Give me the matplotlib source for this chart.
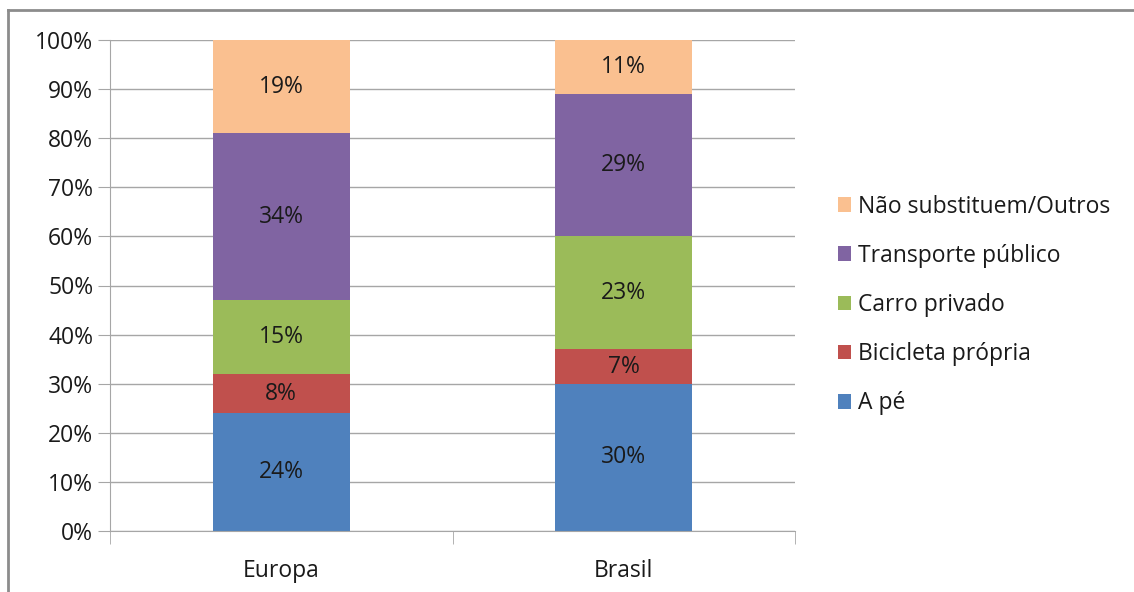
import matplotlib.pyplot as plt
from matplotlib.lines import Line2D

## Data
regions = ['Europa', 'Brasil']
series = ['A pé', 'Bicicleta própria', 'Carro privado',
          'Transporte público', 'Não substituem/Outros']
a_pe = [24, 30]
bicicleta = [8, 7]
carro = [15, 23]
transporte = [34, 29]
outros = [19, 11]
values = [a_pe, bicicleta, carro, transporte, outros]
colors = ['#4F81BD', '#C0504D', '#9BBB59', '#8064A2', '#FAC090']
yticks = [0, 10, 20, 30, 40, 50, 60, 70, 80, 90, 100]

plt.rcParams['font.family'] = ['Open Sans', 'DejaVu Sans']
fs = 16.5

fig = plt.figure(figsize=(11.34, 5.92), dpi=100)
ax = fig.add_axes([110/1134, 1-531/592, 685/1134, 491/592])

x = list(range(len(regions)))
bottom = [0]*len(regions)
for vals, col, name in zip(values, colors, series):
    ax.bar(x, vals, width=0.4, bottom=bottom, color=col, label=name, zorder=3)
    for xi, v, b in zip(x, vals, bottom):
        ax.text(xi, b + v/2, str(v) + '%', ha='center', va='center',
                fontsize=fs, color='#1a1a1a', zorder=4)
    bottom = [b + v for b, v in zip(bottom, vals)]

ax.set_xlim(-0.5, 1.5)
ax.set_ylim(0, 100)
ax.set_yticks(yticks)
ax.set_yticklabels([str(t) + '%' for t in yticks], fontsize=fs, color='#1a1a1a')
ax.yaxis.grid(True, color='#A6A6A6', linewidth=1, zorder=0)
ax.tick_params(axis='y', length=9, color='#A6A6A6', pad=3)

# Category labels and separating ticks
ax.set_xticks(x)
ax.set_xticklabels(regions, fontsize=fs, color='#1a1a1a')
ax.tick_params(axis='x', length=0, pad=20)
ax.set_xticks([-0.5, 0.5, 1.5], minor=True)
ax.tick_params(axis='x', which='minor', length=9, color='#A6A6A6')

for side in ['top', 'right']:
    ax.spines[side].set_visible(False)
for side in ['left', 'bottom']:
    ax.spines[side].set_color('#A6A6A6')
    ax.spines[side].set_zorder(5)

h, l = ax.get_legend_handles_labels()
ax.legend(h[::-1], l[::-1], loc='center left', bbox_to_anchor=(817/1134, 1-305/592),
          bbox_transform=fig.transFigure, frameon=False, fontsize=fs,
          handlelength=0.6, handleheight=0.6, handletextpad=0.3, labelspacing=1.1,
          labelcolor='#1a1a1a')

# outer frame
fig.add_artist(Line2D([8/1134, 1], [1-10/592, 1-10/592], color='#8C8C8C', linewidth=2,
                      transform=fig.transFigure))
fig.add_artist(Line2D([8/1134, 8/1134], [0, 1-10/592], color='#8C8C8C', linewidth=2,
                      transform=fig.transFigure))

fig.savefig('out.png', dpi=100)
